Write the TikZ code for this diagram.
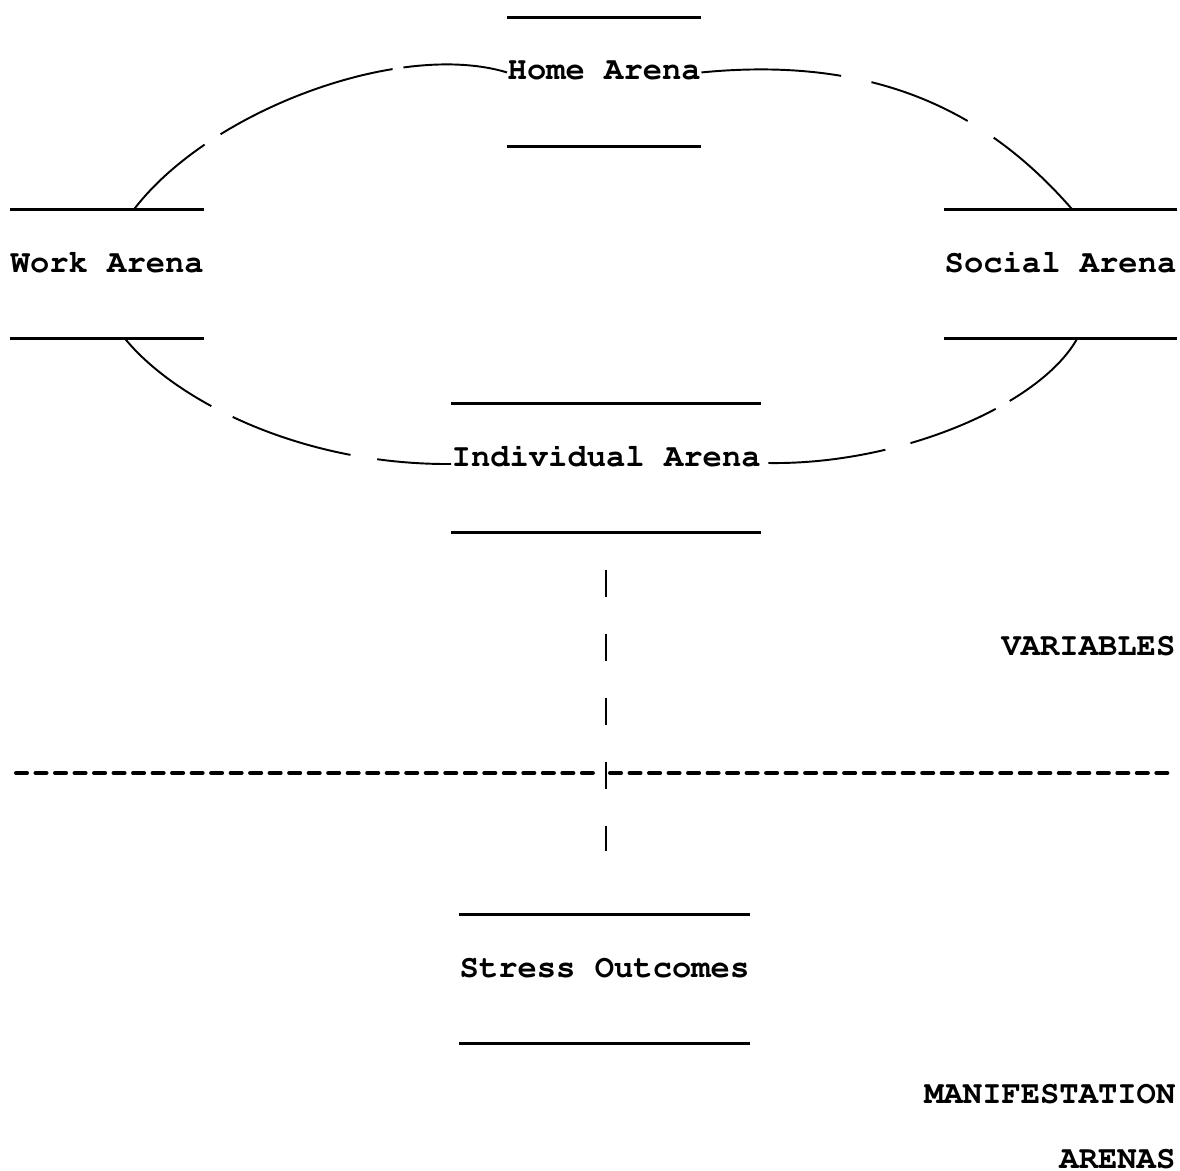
\documentclass[tikz,border=0pt]{standalone}
\usepackage[T1]{fontenc}
\usepackage{courier}
\begin{document}
\begin{tikzpicture}[x=0.01cm,y=-0.01cm,
  every node/.style={font=\fontsize{9.15}{11}\selectfont\ttfamily\bfseries, inner sep=0pt},
  arena/.style={anchor=base west, text height=0.62cm, text depth=0.66cm},
  tag/.style={anchor=base east},
  bar/.style={line width=0.8pt},
  link/.style={line width=0.55pt},
  vdash/.style={line width=0.65pt, dash pattern=on 0.27cm off 0.37cm, dash phase=0.27cm},
  hdash/.style={line width=1.15pt, line cap=round, dash pattern=on 0.11cm off 0.085cm}]
\useasboundingbox (0,0) rectangle (1180,1170);

% arenas
\node[arena] (home) at (507,80) {Home Arena};
\node[arena] (work) at (10,272) {Work Arena};
\node[arena] (social) at (944,272) {Social Arena};
\node[arena] (indiv) at (451,466) {Individual Arena};
\node[arena] (stress) at (459,977) {Stress Outcomes};

\foreach \n in {home,work,social,indiv,stress} {
  \draw[bar] (\n.north west) -- (\n.north east);
  \draw[bar] (\n.south west) -- (\n.south east);
}

% side labels
\node[tag] (vars) at (1176,655) {VARIABLES};
\node[tag] (manif) at (1176,1103) {MANIFESTATION};
\node[tag] (arenas) at (1176,1168) {ARENAS};

% broken ring between the arenas
\draw[link, dash pattern=on 0.96cm off 0.19cm on 1.85cm off 0.11cm on 2cm off 0.1cm]
  ([xshift=1.24cm]work.north west) .. controls (210,110) and (400,40) .. (home.mid west);
\draw[link, dash pattern=on 1.4cm off 0.31cm on 1.04cm off 0.31cm on 2cm off 0.1cm]
  (home.mid east) .. controls (880,55) and (990,115) .. ([xshift=1.28cm]social.north west);
\draw[link, dash pattern=on 1.1cm off 0.24cm on 1.24cm off 0.27cm on 1.5cm off 0.1cm]
  ([xshift=1.15cm]work.south west) .. controls (175,400) and (300,465) .. ([yshift=0.02cm]indiv.base west);
\draw[link, dash pattern=on 1.18cm off 0.26cm on 0.92cm off 0.16cm on 1.5cm off 0.1cm]
  ([xshift=0.07cm,yshift=0.03cm]indiv.base east) .. controls (900,465) and (1040,405) .. ([xshift=1.33cm]social.south west);

% down to the outcomes
\draw[vdash, shorten >=0.63cm] (indiv.south) -- (indiv.south |- stress.north);

% divider
\draw[hdash] (16,773) -- (597,773);
\draw[hdash] (610,773) -- (1174,773);
\end{tikzpicture}
\end{document}
